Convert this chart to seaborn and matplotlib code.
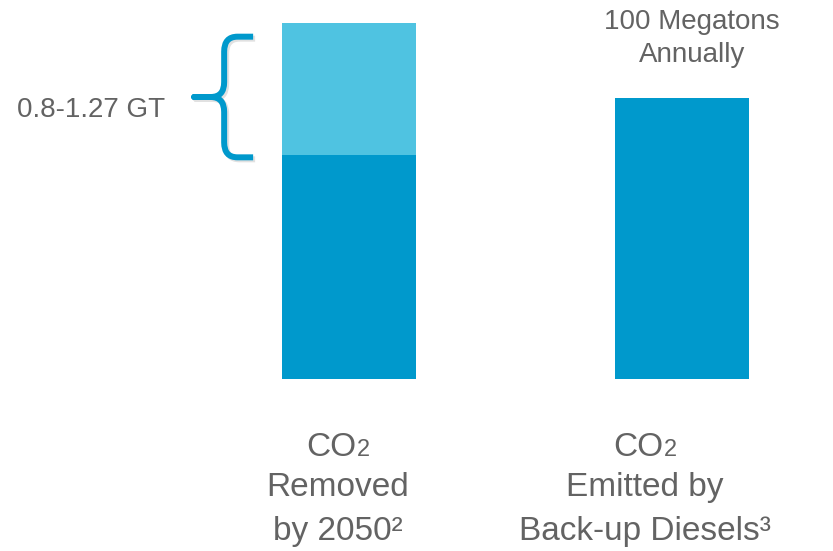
import matplotlib
matplotlib.use("Agg")
import matplotlib.pyplot as plt
import seaborn as sns
import pandas as pd
from matplotlib.path import Path
from matplotlib.patches import PathPatch
from matplotlib.transforms import Affine2D
from matplotlib.offsetbox import TextArea, HPacker, AnnotationBbox

# CO2 volumes in gigatons
categories = ["Removed", "Emitted"]
base_values = [0.8, 1.0]
upper_range = [0.47, 0.0]
label_lines = [["Removed", "by 2050\u00b2"],
               ["Emitted by", "Back-up Diesels\u00b3"]]
range_label = "0.8-1.27 GT"
annual_label = "100 Megatons\nAnnually"

DARK = "#0099CC"
LIGHT = "#4FC3E1"
TEXT = "#636363"

sns.set_theme(style="white")
plt.rcParams["font.family"] = ["Liberation Sans", "DejaVu Sans"]

df = pd.DataFrame({"category": categories, "base": base_values, "upper": upper_range})
df["total"] = df["base"] + df["upper"]

fig = plt.figure(figsize=(8.33, 5.51), dpi=100)
ax = fig.add_axes([0, 172 / 551, 1, 379 / 551])

# stacked look: full range in light blue, base amount in dark blue on top
sns.barplot(data=df, x="category", y="total", color=LIGHT, width=0.402,
            saturation=1, linewidth=0, ax=ax)
sns.barplot(data=df, x="category", y="base", color=DARK, width=0.402,
            saturation=1, linewidth=0, ax=ax)

ax.set_ylim(0, 1.3507)
ax.set_xlim(-1.048, 1.453)
ax.axis("off")

# curly brace marking the uncertainty range of the first bar
y_top = df["total"][0] - 0.05
y_bot = df["base"][0] - 0.01
y_tip = (y_top + y_bot) / 2
x_end, x_mid, x_tip = -0.288, -0.375, -0.465
rx, ry = 0.04, 0.053
verts = [
    (x_end, y_top), (x_mid + rx, y_top),
    (x_mid, y_top), (x_mid, y_top - ry),
    (x_mid, y_tip + ry),
    (x_mid, y_tip), (x_mid - rx, y_tip),
    (x_tip, y_tip),
    (x_mid - rx, y_tip),
    (x_mid, y_tip), (x_mid, y_tip - ry),
    (x_mid, y_bot + ry),
    (x_mid, y_bot), (x_mid + rx, y_bot),
    (x_end, y_bot),
]
codes = [Path.MOVETO, Path.LINETO,
         Path.CURVE3, Path.CURVE3,
         Path.LINETO,
         Path.CURVE3, Path.CURVE3,
         Path.LINETO,
         Path.LINETO,
         Path.CURVE3, Path.CURVE3,
         Path.LINETO,
         Path.CURVE3, Path.CURVE3,
         Path.LINETO]
brace_path = Path(verts, codes)
shadow = PathPatch(brace_path, facecolor="none", edgecolor="#888888",
                   alpha=0.25, linewidth=4.3, capstyle="butt",
                   joinstyle="round", clip_on=False,
                   transform=ax.transData + Affine2D().translate(2, -2))
ax.add_patch(shadow)
brace = PathPatch(brace_path, facecolor="none", edgecolor=DARK,
                  linewidth=4.3, capstyle="butt", joinstyle="round",
                  clip_on=False)
ax.add_patch(brace)

ax.annotate(range_label, xy=(x_tip, y_tip), xytext=(-29, -13),
            textcoords="offset pixels", ha="right", va="center",
            fontsize=20, color=TEXT, annotation_clip=False)

ax.annotate(annual_label, xy=(1, df["base"][1]), xytext=(10, 60),
            textcoords="offset pixels", ha="center", va="center",
            fontsize=20, color=TEXT, linespacing=1.35, annotation_clip=False)

# category captions below the bars
label_dx = [-11, -37]
for i, lines in enumerate(label_lines):
    co2 = HPacker(children=[TextArea("CO", textprops=dict(fontsize=24, color=TEXT)),
                            TextArea("2", textprops=dict(fontsize=17, color=TEXT))],
                  align="baseline", pad=0, sep=0)
    ax.add_artist(AnnotationBbox(co2, (i, 0), xybox=(label_dx[i], -69),
                                 xycoords="data", boxcoords="offset pixels",
                                 box_alignment=(0.5, 0.5), frameon=False,
                                 pad=0, annotation_clip=False))
    for k, line in enumerate(lines):
        ax.annotate(line, xy=(i, 0), xytext=(label_dx[i], -117 - 44 * k),
                    textcoords="offset pixels", ha="center", va="baseline",
                    fontsize=24, color=TEXT, annotation_clip=False)

fig.savefig("out.png", dpi=100, facecolor="white")
